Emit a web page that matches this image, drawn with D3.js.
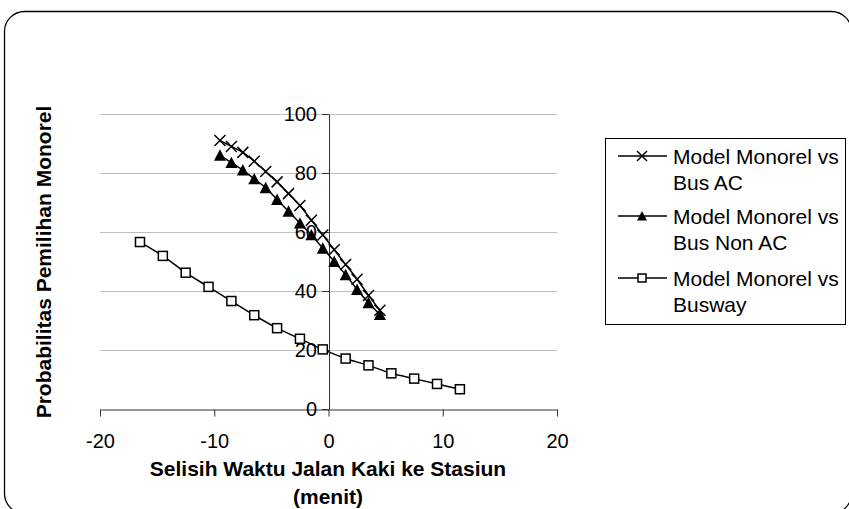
<!DOCTYPE html>
<html>
<head>
<meta charset="utf-8">
<script src="https://cdn.jsdelivr.net/npm/d3@7"></script>
<style>
  html, body { margin: 0; padding: 0; background: #fff; }
  svg { display: block; font-family: Arial, "Liberation Sans", sans-serif; }
</style>
</head>
<body>
<svg id="chart" width="849" height="509"></svg>
<script>
// Walking-time difference (minutes) at which each model was evaluated
const timeDiffBus = [-9.5, -8.5, -7.5, -6.5, -5.5, -4.5, -3.5, -2.5, -1.5, -0.5, 0.5, 1.5, 2.5, 3.5, 4.5];
const timeDiffBusway = [-16.5, -14.5, -12.5, -10.5, -8.5, -6.5, -4.5, -2.5, -0.5, 1.5, 3.5, 5.5, 7.5, 9.5, 11.5];

// Probability of choosing the monorail (%)
const probBusAC = [91, 89, 87, 84, 80.5, 77, 73, 69, 64, 59, 54, 49, 44, 38.5, 33.5];
const probBusNonAC = [86, 83.5, 81, 78, 75, 71, 67, 63, 59, 54.5, 50, 45.5, 40.5, 36, 32];
const probBusway = [56.6, 51.9, 46.2, 41.4, 36.6, 31.8, 27.4, 23.8, 20.2, 17.1, 14.8, 12.1, 10.3, 8.5, 6.7];

const seriesNames = [["Model Monorel vs", "Bus AC"], ["Model Monorel vs", "Bus Non AC"], ["Model Monorel vs", "Busway"]];
const markerTypes = ["cross", "triangle", "square"];

const xTicks = [-20, -10, 0, 10, 20];
const yTicks = [0, 20, 40, 60, 80, 100];

const xTitle = ["Selisih Waktu Jalan Kaki ke Stasiun", "(menit)"];
const yTitle = "Probabilitas Pemilihan Monorel";

const series = [
  { x: timeDiffBus, y: probBusAC },
  { x: timeDiffBus, y: probBusNonAC },
  { x: timeDiffBusway, y: probBusway }
].map((s, i) => ({
  name: seriesNames[i],
  marker: markerTypes[i],
  points: s.x.map((v, j) => ({ x: v, y: s.y[j] }))
}));

const svg = d3.select("#chart");

// Outer rounded frame
svg.append("rect")
  .attr("x", 4.5).attr("y", 11.5)
  .attr("width", 847).attr("height", 502)
  .attr("rx", 20).attr("ry", 20)
  .attr("fill", "#fff").attr("stroke", "#000").attr("stroke-width", 1.3);

const x = d3.scaleLinear().domain([-20, 20]).range([100, 557]);
const y = d3.scaleLinear().domain([0, 100]).range([409, 114]);

// Horizontal gridlines
svg.append("g").selectAll("line")
  .data(yTicks.filter(d => d > 0))
  .join("line")
  .attr("x1", x(-20)).attr("x2", x(20))
  .attr("y1", d => y(d) + 0.5).attr("y2", d => y(d) + 0.5)
  .attr("stroke", "#c0c0c0").attr("stroke-width", 1);

// X axis crossing at y = 0
const xAxis = svg.append("g")
  .attr("transform", `translate(0,${y(0) + 0.5})`)
  .call(d3.axisBottom(x).tickValues(xTicks).tickSize(7).tickSizeOuter(0).tickFormat(d3.format("d")));
xAxis.select(".domain").attr("stroke", "#333");
xAxis.selectAll(".tick line").attr("stroke", "#333");
xAxis.selectAll(".tick text")
  .attr("font-size", 20).attr("font-family", "Arial, 'Liberation Sans', sans-serif")
  .attr("fill", "#000").attr("y", 24).attr("dy", "0.71em");
xAxis.selectAll(".tick text").text(d => d < 0 ? "-" + Math.abs(d) : d);

// Y axis crossing at x = 0
const yAxis = svg.append("g")
  .attr("transform", `translate(${x(0) + 0.5},0)`)
  .call(d3.axisLeft(y).tickValues(yTicks).tickSize(7).tickSizeOuter(0));
yAxis.select(".domain").attr("stroke", "#333");
yAxis.selectAll(".tick line").attr("stroke", "#333");
yAxis.selectAll(".tick text")
  .attr("font-size", 20).attr("font-family", "Arial, 'Liberation Sans', sans-serif")
  .attr("fill", "#000").attr("x", -12);

// Series lines
const line = d3.line().x(d => x(d.x)).y(d => y(d.y)).curve(d3.curveMonotoneX);
svg.append("g").selectAll("path")
  .data(series)
  .join("path")
  .attr("d", d => line(d.points))
  .attr("fill", "none").attr("stroke", "#000").attr("stroke-width", 1.5);

// Marker drawing
function drawMarker(g, type, cx, cy, s) {
  if (type === "cross") {
    g.append("path")
      .attr("d", `M${cx - s},${cy - s}L${cx + s},${cy + s}M${cx - s},${cy + s}L${cx + s},${cy - s}`)
      .attr("stroke", "#000").attr("stroke-width", 1.5).attr("fill", "none");
  } else if (type === "triangle") {
    g.append("path")
      .attr("d", `M${cx},${cy - s}L${cx + s},${cy + s * 0.9}L${cx - s},${cy + s * 0.9}Z`)
      .attr("fill", "#000");
  } else {
    g.append("rect")
      .attr("x", cx - s).attr("y", cy - s).attr("width", 2 * s).attr("height", 2 * s)
      .attr("fill", "#fff").attr("stroke", "#000").attr("stroke-width", 1.5);
  }
}

const markerSize = { cross: 5.5, triangle: 6, square: 4.5 };
series.forEach(s => {
  const g = svg.append("g");
  s.points.forEach(p => drawMarker(g, s.marker, x(p.x), y(p.y), markerSize[s.marker]));
});

// Axis titles
svg.append("text")
  .attr("x", 328).attr("y", 476)
  .attr("text-anchor", "middle").attr("font-size", 21).attr("font-weight", "bold")
  .text(xTitle[0]);
svg.append("text")
  .attr("x", 328).attr("y", 504)
  .attr("text-anchor", "middle").attr("font-size", 21).attr("font-weight", "bold")
  .text(xTitle[1]);
svg.append("text")
  .attr("transform", "translate(50.5,262) rotate(-90)")
  .attr("text-anchor", "middle").attr("font-size", 21).attr("font-weight", "bold")
  .text(yTitle);

// Legend
const legend = svg.append("g");
legend.append("rect")
  .attr("x", 605.5).attr("y", 138.5).attr("width", 240).attr("height", 186)
  .attr("fill", "#fff").attr("stroke", "#000").attr("stroke-width", 1);
const rowY = [156, 216, 278];
series.forEach((s, i) => {
  const ry = rowY[i];
  legend.append("line")
    .attr("x1", 618).attr("x2", 667).attr("y1", ry).attr("y2", ry)
    .attr("stroke", "#000").attr("stroke-width", 1.5);
  drawMarker(legend, s.marker, 642, ry, s.marker === "square" ? 4 : 5);
  s.name.forEach((t, k) => {
    legend.append("text")
      .attr("x", 673).attr("y", ry + 7.5 + k * 26)
      .attr("font-size", 21)
      .text(t);
  });
});
</script>
</body>
</html>
